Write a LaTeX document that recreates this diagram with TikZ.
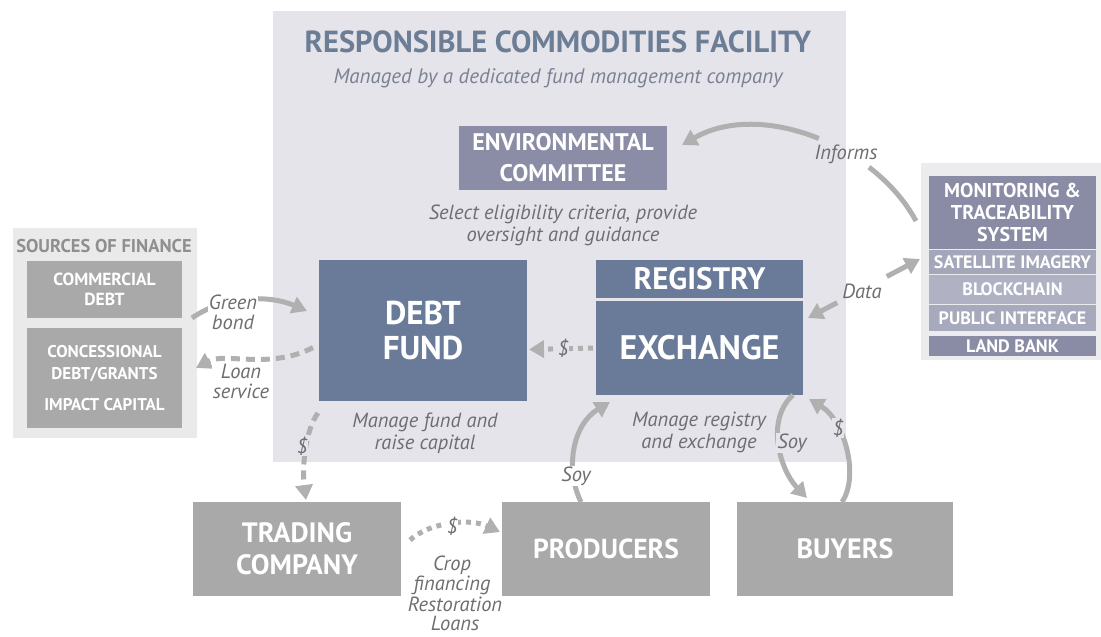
\documentclass[tikz,border=0pt]{standalone}
\usepackage{fontspec}
\setmainfont{PT Sans}
\usetikzlibrary{arrows.meta,calc}
\definecolor{facbg}{HTML}{E5E4EA}
\definecolor{slate}{HTML}{697B98}
\definecolor{envc}{HTML}{8B8DA6}
\definecolor{titlec}{HTML}{6C7D96}
\definecolor{subc}{HTML}{7B8094}
\definecolor{labc}{HTML}{6E6E72}
\definecolor{greybox}{HTML}{A9A9A9}
\definecolor{srcbg}{HTML}{EAEAEA}
\definecolor{srctitle}{HTML}{8F8F8F}
\definecolor{arrowc}{HTML}{B0B0B0}
\definecolor{monbg}{HTML}{ECECEF}
\definecolor{mondark}{HTML}{8A8CA5}
\definecolor{monsat}{HTML}{A4A6BA}
\definecolor{monblk}{HTML}{B0B2C4}
\definecolor{monpub}{HTML}{A7A9BD}
\newcommand{\fsz}[2]{\fontsize{#1}{#2}\selectfont}
\begin{document}
\begin{tikzpicture}[x=1pt,y=-1pt,
  area/.style={inner sep=0pt, outer sep=0pt, draw=none},
  box/.style={area, align=center, text=white, font=\bfseries},
  lbl/.style={font=\itshape\fsz{20.5}{20}, text=labc, inner sep=1pt, align=center},
  desc/.style={font=\itshape\fsz{20.5}{22}, text=labc, inner sep=0pt, align=center},
  flow/.style={draw=arrowc, line width=5pt, -{Triangle[length=15pt,width=17pt]}},
  dashflow/.style={flow, dash pattern=on 9pt off 6pt},
  dotflow/.style={flow, dash pattern=on 5pt off 5pt},
]
\useasboundingbox (0,0) rectangle (1101,637);

% ---------- facility ----------
\node[area, fill=facbg, minimum width=573pt, minimum height=451pt] (fac) at (559.5,236.5) {};
\node[font=\bfseries\fsz{30.5}{32}, text=titlec, inner sep=0pt] (title) at (558,42) {RESPONSIBLE COMMODITIES FACILITY};
\node[font=\itshape\fsz{21}{24}, text=subc, inner sep=0pt, anchor=base] (subtitle) at (558,83) {Managed by a dedicated fund management company};

\node[box, fill=envc, minimum width=208pt, minimum height=64pt, font=\bfseries\fsz{24}{31}] (env) at (563,158) {ENVIRONMENTAL\\COMMITTEE};
\node[desc] (envdesc) at (563,225) {Select eligibility criteria, provide\\oversight and guidance};

\node[box, fill=slate, minimum width=208pt, minimum height=141pt, font=\bfseries\fsz{33}{35}] (debt) at (423,330.5) {DEBT\\FUND};
\node[box, fill=slate, minimum width=207pt, minimum height=38pt, font=\bfseries\fsz{31}{32}] (reg) at (699.5,279) {REGISTRY};
\node[box, fill=slate, minimum width=207pt, minimum height=94pt, font=\bfseries\fsz{34}{36}] (exch) at (699.5,348) {EXCHANGE};

\node[desc] (debtdesc) at (425,433) {Manage fund and\\raise capital};
\node[desc] (exchdesc) at (699,432) {Manage registry\\and exchange};

% ---------- sources of finance ----------
\node[area, fill=srcbg, minimum width=184pt, minimum height=210pt] (src) at (105,333) {};
\node[font=\bfseries\fsz{18.5}{19}, text=srctitle, inner sep=0pt] (srctitle) at (104,246) {SOURCES OF FINANCE};
\node[box, fill=greybox, minimum width=155pt, minimum height=57pt, font=\bfseries\fsz{17.5}{20}] (cd) at (104.5,289.5) {COMMERCIAL\\DEBT};
\node[box, fill=greybox, minimum width=155pt, minimum height=100pt, font=\bfseries\fsz{17}{22}] (conc) at (104.5,378) {CONCESSIONAL\\DEBT/GRANTS\\[9pt]IMPACT CAPITAL};

% ---------- monitoring ----------
\node[area, fill=monbg, minimum width=180pt, minimum height=197pt] (mon) at (1011,261.5) {};
\node[box, fill=mondark, minimum width=167pt, minimum height=73pt, font=\bfseries\fsz{20}{22}] (montop) at (1012.5,212.5) {MONITORING \&\\TRACEABILITY\\SYSTEM};
\node[box, fill=monsat, minimum width=167pt, minimum height=24pt, font=\bfseries\fsz{18}{19}] (sat) at (1012.5,262) {SATELLITE IMAGERY};
\node[box, fill=monblk, minimum width=167pt, minimum height=29pt, font=\bfseries\fsz{18}{19}] (blk) at (1012.5,289.5) {BLOCKCHAIN};
\node[box, fill=monpub, minimum width=167pt, minimum height=26pt, font=\bfseries\fsz{18}{19}] (pub) at (1012.5,318) {PUBLIC INTERFACE};
\node[box, fill=mondark, minimum width=167pt, minimum height=20pt, font=\bfseries\fsz{18}{19}] (land) at (1012.5,346) {LAND BANK};

% ---------- bottom row ----------
\node[box, fill=greybox, minimum width=208pt, minimum height=94pt, font=\bfseries\fsz{28}{32}] (trade) at (297,549) {TRADING\\COMPANY};
\node[box, fill=greybox, minimum width=208pt, minimum height=94pt, font=\bfseries\fsz{27.5}{32}] (prod) at (606,549) {PRODUCERS};
\node[box, fill=greybox, minimum width=216pt, minimum height=94pt, font=\bfseries\fsz{28}{32}] (buy) at (845,549) {BUYERS};

% ---------- connectors ----------
% green bond
\draw[flow] ($(cd.south east)+(10,0)$) .. controls (225,295) and (270,295) .. ($(debt.west)+(-12,-19.5)$);
\node[lbl, fill=white] (gb) at (233,312) {Green\\bond};
% loan service
\draw[dashflow] ($(debt.west)+(-6,17)$) .. controls (270,370) and (225,352) .. ($(conc.east)+(14,-10)$);
\node[lbl, fill=white] (ls) at (241,381) {Loan\\service};
% $ exchange -> debt
\draw[dotflow] ($(exch.west)+(-3,0)$) -- ($(debt.east)+(2,19)$);
\node[lbl, fill=facbg] (d1) at (563,348) {\$};
% $ debt -> trading
\draw[dashflow] ($(debt.south west)+(-1,12)$) .. controls (305,430) and (302,470) .. ($(trade.north)+(9,-2)$);
\node[lbl, fill=facbg] (d2) at (302,446) {\$};
% trading -> producers
\draw[dotflow] ($(trade.east)+(9,-9)$) .. controls (430,522) and (470,518) .. ($(prod.west)+(-2,-17)$);
\node[lbl, fill=white] (d3) at (452,526) {\$};
\node[lbl] (crop) at (452,575) {Crop\\financing};
\node[lbl, font=\itshape\fsz{20.5}{19}] (rest) at (455,614) {Restoration\\Loans};
% producers -> exchange
\draw[flow] ($(prod.north)+(-25,0)$) .. controls (565,470) and (572,425) .. ($(exch.south west)+(14,7)$);
\node[lbl, fill=white] (soy1) at (576,476) {Soy};
% exchange -> buyers
\draw[flow] ($(exch.south east)+(-10,0)$) .. controls (765,420) and (780,470) .. ($(buy.north west)+(70,-4)$);
\node[lbl, fill=facbg] (soy2) at (792,443) {Soy};
% buyers -> exchange
\draw[flow] ($(buy.north)+(-3,0)$) .. controls (860,475) and (844,420) .. ($(exch.south east)+(6,4)$);
\node[lbl, fill=facbg, inner sep=0.5pt] (d4) at (838,428) {\$};
% informs
\draw[flow, dash pattern=on 72pt off 58pt on 400pt] ($(mon.west)+(-5,-40.5)$) .. controls (875,145) and (760,100) .. ($(env.east)+(15,-13)$);
\node[lbl] (inf) at (846,154) {Informs};
% data
\draw[flow, {Triangle[length=15pt,width=17pt]}-{Triangle[length=15pt,width=17pt]}, dash pattern=on 19pt off 56pt on 100pt] ($(exch.east)+(5,-30)$) -- ($(mon.west)+(-1,-2.5)$);
\node[lbl] (data) at (862,291) {Data};
\end{tikzpicture}
\end{document}
